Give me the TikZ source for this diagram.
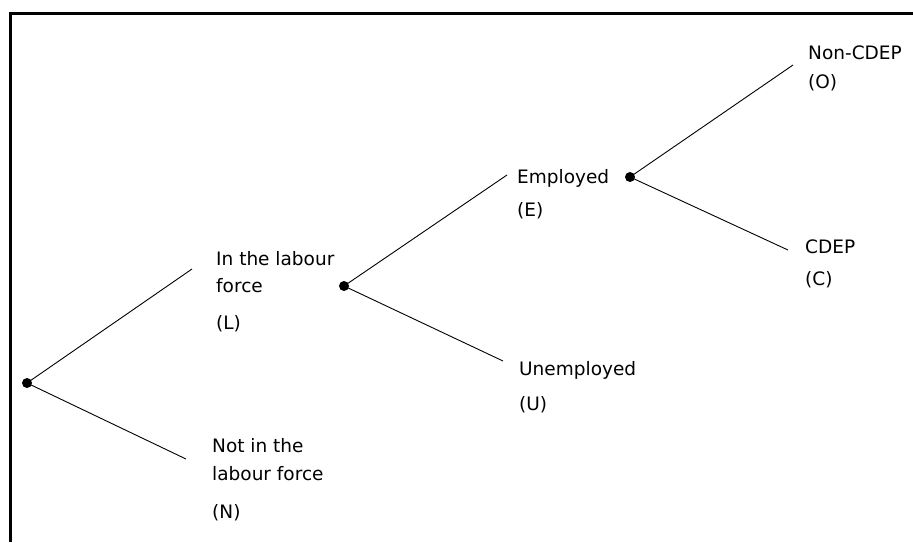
\documentclass[tikz,border=0pt]{standalone}
\usepackage{fontspec}
\setmainfont{DejaVu Sans}
\begin{document}
\begin{tikzpicture}[x=1pt,y=-1pt,
  dot/.style={circle,fill=black,inner sep=0pt,minimum size=10pt},
  lbl/.style={anchor=base west,inner sep=0pt,font=\fontsize{18.5}{22}\selectfont},
  branch/.style={draw=black,line width=0.9pt}]
\useasboundingbox (0,0) rectangle (913,542);
% frame (top and left edges only)
\draw[line width=3pt] (10.5,542) -- (10.5,13) -- (913,13);
% branching points
\node[dot] (root) at (27,383) {};
\node[dot] (ldot) at (344,286) {};
\node[dot] (edot) at (630,177) {};
% free ends of branches
\coordinate (lend) at (192,269);
\coordinate (nend) at (186,459);
\coordinate (eend) at (507,175);
\coordinate (uend) at (503,361);
\coordinate (oend) at (793,65);
\coordinate (cend) at (788,250);
% labels
\node[lbl] (o1) at (808,59) {Non-CDEP};
\node[lbl] (o2) at (808,88) {(O)};
\node[lbl] (e1) at (517,183) {Employed};
\node[lbl] (e2) at (517,216) {(E)};
\node[lbl] (c1) at (805,253) {CDEP};
\node[lbl] (c2) at (805,285) {(C)};
\node[lbl] (l1) at (216,265) {In the labour};
\node[lbl] (l2) at (216,292) {force};
\node[lbl] (l3) at (216,329) {(L)};
\node[lbl] (u1) at (519,375) {Unemployed};
\node[lbl] (u2) at (519,410) {(U)};
\node[lbl] (n1) at (212,452) {Not in the};
\node[lbl] (n2) at (212,480) {labour force};
\node[lbl] (n3) at (212,518) {(N)};
% branches
\draw[branch] (root.center) -- (lend);
\draw[branch] (root.center) -- (nend);
\draw[branch] (ldot.center) -- (eend);
\draw[branch] (ldot.center) -- (uend);
\draw[branch] (edot.center) -- (oend);
\draw[branch] (edot.center) -- (cend);
\end{tikzpicture}
\end{document}
